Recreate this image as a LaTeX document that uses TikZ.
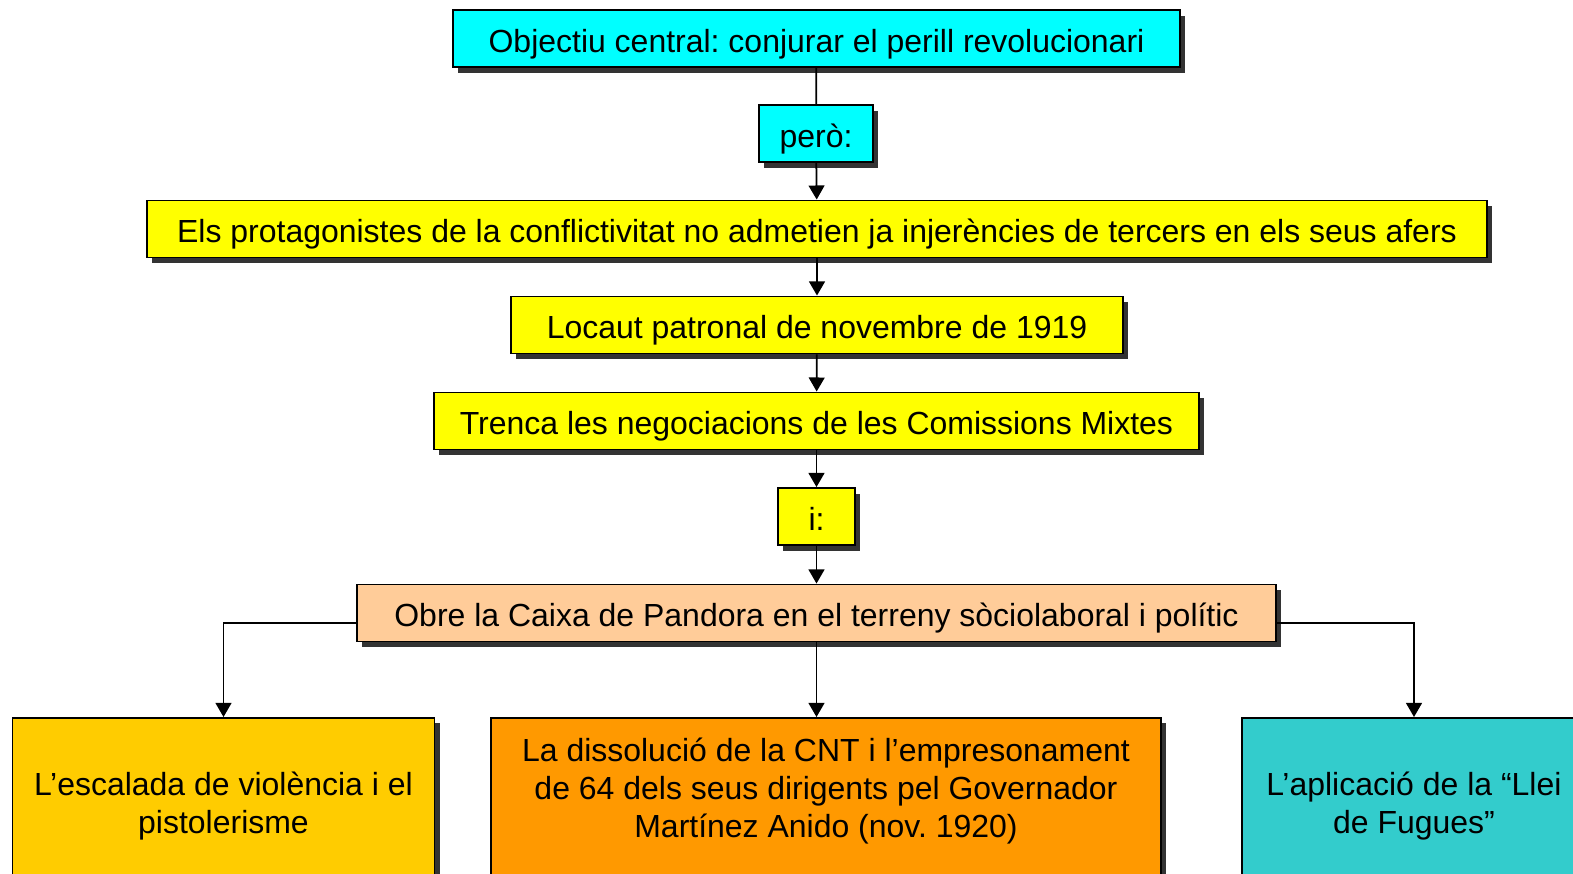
\documentclass[tikz,border=0pt]{standalone}
\usepackage{fontspec}
\setmainfont{Liberation Sans}
\usepackage{xcolor}
\usepackage{tikz}
\usetikzlibrary{calc, arrows.meta, positioning, shadows}

\definecolor{cianbox}{HTML}{00FFFF}
\definecolor{grocbox}{HTML}{FFFF00}
\definecolor{preseguebox}{HTML}{FFCC99}
\definecolor{orbox}{HTML}{FFCC00}
\definecolor{taronjabox}{HTML}{FF9900}
\definecolor{turquesabox}{HTML}{33CCCC}
\definecolor{ombra}{HTML}{333333}

\begin{document}
\frenchspacing
\begin{tikzpicture}[x=0.02cm, y=-0.02cm, font=\fontsize{18.2}{21.7}\selectfont]
		\tikzstyle{caixa} = [draw=black, line width=1.1pt, rectangle, inner sep=0pt, align=center,
			drop shadow={shadow xshift=0.1cm, shadow yshift=-0.11cm, fill=ombra, opacity=1}]
		\tikzstyle{fila} = [caixa, minimum height=57*0.02cm, text height=16pt, text depth=0.2pt]
		\tikzstyle{final} = [caixa, anchor=north, minimum height=176*0.02cm]
		\tikzstyle{arrow} = [line width=1pt, -{Triangle[width=9pt, length=8pt]}]
		\tikzstyle{linia} = [line width=1pt]
		
		\useasboundingbox (0, 0) rectangle (1573, 873);
		
		\node[fila, fill=cianbox, minimum width=727*0.02cm]	at (816.5, 38.5)	(obj)	{Objectiu central: conjurar el perill revolucionari};
		\node[fila, fill=cianbox, minimum width=114*0.02cm]	at (816, 133.5)	(pero)	{però:};
		\node[fila, fill=grocbox, minimum width=1340*0.02cm]	at (817, 229)	(prot)	{Els protagonistes de la conflictivitat no admetien ja injerències de tercers en els seus afers};
		\node[fila, fill=grocbox, minimum width=612*0.02cm]	at (817, 325)	(locaut)	{Locaut patronal de novembre de 1919};
		\node[fila, fill=grocbox, minimum width=765*0.02cm]	at (816.5, 421)	(trenca)	{Trenca les negociacions de les Comissions Mixtes};
		\node[fila, fill=grocbox, minimum width=77*0.02cm]	at (816.5, 516.5)	(i)	{i:};
		\node[fila, fill=preseguebox, minimum width=919*0.02cm]	at (816.5, 613)	(obre)	{Obre la Caixa de Pandora en el terreny sòciolaboral i polític};
		
		\node[final, fill=orbox, minimum width=422*0.02cm]	at (223.5, 717)	(violencia)	{L’escalada de violència i el\\ pistolerisme};
		\node[final, fill=taronjabox, minimum width=670*0.02cm]	at (826, 717)	(cnt)	{La dissolució de la CNT i l’empresonament\\ de 64 dels seus dirigents pel Governador\\ Martínez Anido (nov. 1920)\rule[-0.74cm]{0pt}{0.74cm}};
		\node[final, fill=turquesabox, minimum width=344*0.02cm]	at (1414, 717)	(fugues)	{L’aplicació de la “Llei\\ de Fugues”};
		
		\draw [linia] (obj) -- (pero);
		\draw [arrow] (pero) -- (prot);
		\draw [arrow] (prot) -- (locaut);
		\draw [arrow] (locaut) -- (trenca);
		\draw [arrow] (trenca) -- (i);
		\draw [arrow] (i) -- (obre);
		
		\draw [arrow] ([yshift=-0.2cm]obre.west) -| (violencia.north);
		\draw [arrow] (obre.south) -- (obre.south |- cnt.north);
		\draw [arrow] ([yshift=-0.2cm]obre.east) -| (fugues.north);
	\end{tikzpicture}
\end{document}
